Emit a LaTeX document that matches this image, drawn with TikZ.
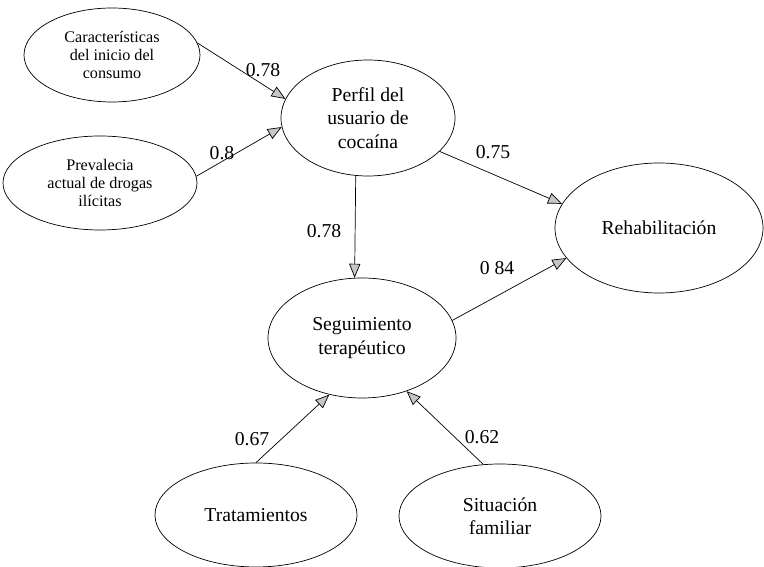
\documentclass[tikz,border=0pt]{standalone}
\usepackage{fontspec}
\setmainfont{Liberation Serif}
\usepackage{tikz}
\usetikzlibrary{shapes.geometric, arrows.meta}

\tikzset{
  factor/.style={draw, ellipse, line width=0.5pt, inner sep=0pt, align=center, font=\fontsize{14}{16.5}\selectfont},
  smallfactor/.style={factor, font=\fontsize{11.5}{13}\selectfont},
  path/.style={draw, line width=0.5pt, -{Triangle[length=10pt,width=8pt,fill=gray!45]}},
  weight/.style={font=\fontsize{14}{16}\selectfont, inner sep=0pt}
}

\begin{document}
\begin{tikzpicture}
        \useasboundingbox (0,0) rectangle (19.1,14.175);

        % Latent variables
        \node[smallfactor, minimum width=4.4cm, minimum height=2.35cm] (inicio) at (2.8,12.8) {Características\\del inicio del\\consumo};
        \node[smallfactor, minimum width=4.85cm, minimum height=2.35cm] (preval) at (2.5,9.6) {Prevalecia\\actual de drogas\\ilícitas};
        \node[factor, minimum width=4.35cm, minimum height=2.9cm] (perfil) at (9.2,11.225) {Perfil del\\usuario de\\cocaína};
        \node[factor, minimum width=5.2cm, minimum height=3.25cm] (rehab) at (16.475,8.475) {Rehabilitación};
        \node[factor, minimum width=4.7cm, minimum height=3cm] (seguim) at (9.05,5.725) {Seguimiento\\terapéutico};
        \node[factor, minimum width=5.05cm, minimum height=2.6cm] (tratam) at (6.4,1.3) {Tratamientos};
        \node[factor, minimum width=5.05cm, minimum height=2.6cm] (famil) at (12.5,1.275) {Situación\\familiar};

        % Paths
        \draw[path] (inicio.8) -- (perfil.167);
        \draw[path] (preval.4) -- (perfil.186);
        \draw[path] (perfil.258) -- (seguim.97);
        \draw[path] (perfil.335) -- (rehab.166);
        \draw[path] (seguim.11) -- (rehab.198);
        \draw[path] (tratam.90) -- (seguim.240);
        \draw[path] (famil.108) -- (seguim.310);

        % Path coefficients
        \node[weight] (w1) at (6.575,12.425) {0.78};
        \node[weight] (w2) at (5.55,10.35) {0.8};
        \node[weight] (w3) at (8.1,8.4) {0.78};
        \node[weight] (w4) at (12.325,10.375) {0.75};
        \node[weight] (w5) at (12.425,7.475) {0 84};
        \node[weight] (w6) at (6.3,3.2) {0.67};
        \node[weight] (w7) at (12.05,3.25) {0.62};
    \end{tikzpicture}
\end{document}
